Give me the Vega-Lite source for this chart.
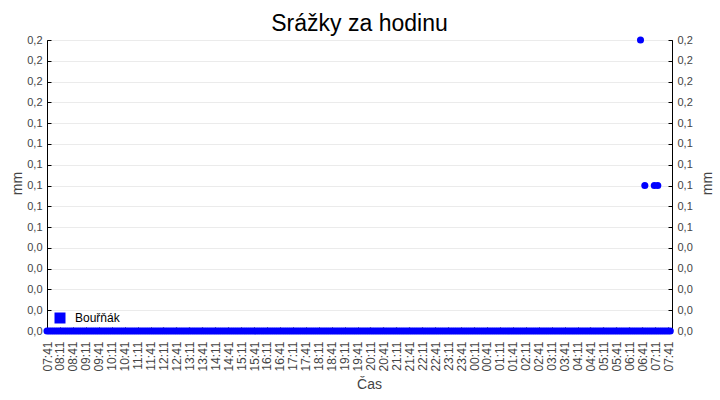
{
  "$schema": "https://vega.github.io/schema/vega-lite/v6.json",
  "width": 625,
  "height": 291,
  "autosize": {"type": "none"},
  "padding": {"left": 47, "top": 40, "right": 48, "bottom": 69},
  "title": {
    "text": "Srážky za hodinu",
    "font": "Liberation Sans",
    "fontSize": 23,
    "fontWeight": "normal",
    "color": "#000000",
    "anchor": "middle",
    "offset": -2
  },
  "data": {
    "values": [
      {"t":"2024-01-01T07:41Z","v":0},{"t":"2024-01-01T07:46Z","v":0},{"t":"2024-01-01T07:51Z","v":0},{"t":"2024-01-01T07:56Z","v":0},
      {"t":"2024-01-01T08:01Z","v":0},{"t":"2024-01-01T08:06Z","v":0},{"t":"2024-01-01T08:11Z","v":0},{"t":"2024-01-01T08:16Z","v":0},{"t":"2024-01-01T08:21Z","v":0},{"t":"2024-01-01T08:26Z","v":0},{"t":"2024-01-01T08:31Z","v":0},{"t":"2024-01-01T08:36Z","v":0},{"t":"2024-01-01T08:41Z","v":0},{"t":"2024-01-01T08:46Z","v":0},{"t":"2024-01-01T08:51Z","v":0},{"t":"2024-01-01T08:56Z","v":0},
      {"t":"2024-01-01T09:01Z","v":0},{"t":"2024-01-01T09:06Z","v":0},{"t":"2024-01-01T09:11Z","v":0},{"t":"2024-01-01T09:16Z","v":0},{"t":"2024-01-01T09:21Z","v":0},{"t":"2024-01-01T09:26Z","v":0},{"t":"2024-01-01T09:31Z","v":0},{"t":"2024-01-01T09:36Z","v":0},{"t":"2024-01-01T09:41Z","v":0},{"t":"2024-01-01T09:46Z","v":0},{"t":"2024-01-01T09:51Z","v":0},{"t":"2024-01-01T09:56Z","v":0},
      {"t":"2024-01-01T10:01Z","v":0},{"t":"2024-01-01T10:06Z","v":0},{"t":"2024-01-01T10:11Z","v":0},{"t":"2024-01-01T10:16Z","v":0},{"t":"2024-01-01T10:21Z","v":0},{"t":"2024-01-01T10:26Z","v":0},{"t":"2024-01-01T10:31Z","v":0},{"t":"2024-01-01T10:36Z","v":0},{"t":"2024-01-01T10:41Z","v":0},{"t":"2024-01-01T10:46Z","v":0},{"t":"2024-01-01T10:51Z","v":0},{"t":"2024-01-01T10:56Z","v":0},
      {"t":"2024-01-01T11:01Z","v":0},{"t":"2024-01-01T11:06Z","v":0},{"t":"2024-01-01T11:11Z","v":0},{"t":"2024-01-01T11:16Z","v":0},{"t":"2024-01-01T11:21Z","v":0},{"t":"2024-01-01T11:26Z","v":0},{"t":"2024-01-01T11:31Z","v":0},{"t":"2024-01-01T11:36Z","v":0},{"t":"2024-01-01T11:41Z","v":0},{"t":"2024-01-01T11:46Z","v":0},{"t":"2024-01-01T11:51Z","v":0},{"t":"2024-01-01T11:56Z","v":0},
      {"t":"2024-01-01T12:01Z","v":0},{"t":"2024-01-01T12:06Z","v":0},{"t":"2024-01-01T12:11Z","v":0},{"t":"2024-01-01T12:16Z","v":0},{"t":"2024-01-01T12:21Z","v":0},{"t":"2024-01-01T12:26Z","v":0},{"t":"2024-01-01T12:31Z","v":0},{"t":"2024-01-01T12:36Z","v":0},{"t":"2024-01-01T12:41Z","v":0},{"t":"2024-01-01T12:46Z","v":0},{"t":"2024-01-01T12:51Z","v":0},{"t":"2024-01-01T12:56Z","v":0},
      {"t":"2024-01-01T13:01Z","v":0},{"t":"2024-01-01T13:06Z","v":0},{"t":"2024-01-01T13:11Z","v":0},{"t":"2024-01-01T13:16Z","v":0},{"t":"2024-01-01T13:21Z","v":0},{"t":"2024-01-01T13:26Z","v":0},{"t":"2024-01-01T13:31Z","v":0},{"t":"2024-01-01T13:36Z","v":0},{"t":"2024-01-01T13:41Z","v":0},{"t":"2024-01-01T13:46Z","v":0},{"t":"2024-01-01T13:51Z","v":0},{"t":"2024-01-01T13:56Z","v":0},
      {"t":"2024-01-01T14:01Z","v":0},{"t":"2024-01-01T14:06Z","v":0},{"t":"2024-01-01T14:11Z","v":0},{"t":"2024-01-01T14:16Z","v":0},{"t":"2024-01-01T14:21Z","v":0},{"t":"2024-01-01T14:26Z","v":0},{"t":"2024-01-01T14:31Z","v":0},{"t":"2024-01-01T14:36Z","v":0},{"t":"2024-01-01T14:41Z","v":0},{"t":"2024-01-01T14:46Z","v":0},{"t":"2024-01-01T14:51Z","v":0},{"t":"2024-01-01T14:56Z","v":0},
      {"t":"2024-01-01T15:01Z","v":0},{"t":"2024-01-01T15:06Z","v":0},{"t":"2024-01-01T15:11Z","v":0},{"t":"2024-01-01T15:16Z","v":0},{"t":"2024-01-01T15:21Z","v":0},{"t":"2024-01-01T15:26Z","v":0},{"t":"2024-01-01T15:31Z","v":0},{"t":"2024-01-01T15:36Z","v":0},{"t":"2024-01-01T15:41Z","v":0},{"t":"2024-01-01T15:46Z","v":0},{"t":"2024-01-01T15:51Z","v":0},{"t":"2024-01-01T15:56Z","v":0},
      {"t":"2024-01-01T16:01Z","v":0},{"t":"2024-01-01T16:06Z","v":0},{"t":"2024-01-01T16:11Z","v":0},{"t":"2024-01-01T16:16Z","v":0},{"t":"2024-01-01T16:21Z","v":0},{"t":"2024-01-01T16:26Z","v":0},{"t":"2024-01-01T16:31Z","v":0},{"t":"2024-01-01T16:36Z","v":0},{"t":"2024-01-01T16:41Z","v":0},{"t":"2024-01-01T16:46Z","v":0},{"t":"2024-01-01T16:51Z","v":0},{"t":"2024-01-01T16:56Z","v":0},
      {"t":"2024-01-01T17:01Z","v":0},{"t":"2024-01-01T17:06Z","v":0},{"t":"2024-01-01T17:11Z","v":0},{"t":"2024-01-01T17:16Z","v":0},{"t":"2024-01-01T17:21Z","v":0},{"t":"2024-01-01T17:26Z","v":0},{"t":"2024-01-01T17:31Z","v":0},{"t":"2024-01-01T17:36Z","v":0},{"t":"2024-01-01T17:41Z","v":0},{"t":"2024-01-01T17:46Z","v":0},{"t":"2024-01-01T17:51Z","v":0},{"t":"2024-01-01T17:56Z","v":0},
      {"t":"2024-01-01T18:01Z","v":0},{"t":"2024-01-01T18:06Z","v":0},{"t":"2024-01-01T18:11Z","v":0},{"t":"2024-01-01T18:16Z","v":0},{"t":"2024-01-01T18:21Z","v":0},{"t":"2024-01-01T18:26Z","v":0},{"t":"2024-01-01T18:31Z","v":0},{"t":"2024-01-01T18:36Z","v":0},{"t":"2024-01-01T18:41Z","v":0},{"t":"2024-01-01T18:46Z","v":0},{"t":"2024-01-01T18:51Z","v":0},{"t":"2024-01-01T18:56Z","v":0},
      {"t":"2024-01-01T19:01Z","v":0},{"t":"2024-01-01T19:06Z","v":0},{"t":"2024-01-01T19:11Z","v":0},{"t":"2024-01-01T19:16Z","v":0},{"t":"2024-01-01T19:21Z","v":0},{"t":"2024-01-01T19:26Z","v":0},{"t":"2024-01-01T19:31Z","v":0},{"t":"2024-01-01T19:36Z","v":0},{"t":"2024-01-01T19:41Z","v":0},{"t":"2024-01-01T19:46Z","v":0},{"t":"2024-01-01T19:51Z","v":0},{"t":"2024-01-01T19:56Z","v":0},
      {"t":"2024-01-01T20:01Z","v":0},{"t":"2024-01-01T20:06Z","v":0},{"t":"2024-01-01T20:11Z","v":0},{"t":"2024-01-01T20:16Z","v":0},{"t":"2024-01-01T20:21Z","v":0},{"t":"2024-01-01T20:26Z","v":0},{"t":"2024-01-01T20:31Z","v":0},{"t":"2024-01-01T20:36Z","v":0},{"t":"2024-01-01T20:41Z","v":0},{"t":"2024-01-01T20:46Z","v":0},{"t":"2024-01-01T20:51Z","v":0},{"t":"2024-01-01T20:56Z","v":0},
      {"t":"2024-01-01T21:01Z","v":0},{"t":"2024-01-01T21:06Z","v":0},{"t":"2024-01-01T21:11Z","v":0},{"t":"2024-01-01T21:16Z","v":0},{"t":"2024-01-01T21:21Z","v":0},{"t":"2024-01-01T21:26Z","v":0},{"t":"2024-01-01T21:31Z","v":0},{"t":"2024-01-01T21:36Z","v":0},{"t":"2024-01-01T21:41Z","v":0},{"t":"2024-01-01T21:46Z","v":0},{"t":"2024-01-01T21:51Z","v":0},{"t":"2024-01-01T21:56Z","v":0},
      {"t":"2024-01-01T22:01Z","v":0},{"t":"2024-01-01T22:06Z","v":0},{"t":"2024-01-01T22:11Z","v":0},{"t":"2024-01-01T22:16Z","v":0},{"t":"2024-01-01T22:21Z","v":0},{"t":"2024-01-01T22:26Z","v":0},{"t":"2024-01-01T22:31Z","v":0},{"t":"2024-01-01T22:36Z","v":0},{"t":"2024-01-01T22:41Z","v":0},{"t":"2024-01-01T22:46Z","v":0},{"t":"2024-01-01T22:51Z","v":0},{"t":"2024-01-01T22:56Z","v":0},
      {"t":"2024-01-01T23:01Z","v":0},{"t":"2024-01-01T23:06Z","v":0},{"t":"2024-01-01T23:11Z","v":0},{"t":"2024-01-01T23:16Z","v":0},{"t":"2024-01-01T23:21Z","v":0},{"t":"2024-01-01T23:26Z","v":0},{"t":"2024-01-01T23:31Z","v":0},{"t":"2024-01-01T23:36Z","v":0},{"t":"2024-01-01T23:41Z","v":0},{"t":"2024-01-01T23:46Z","v":0},{"t":"2024-01-01T23:51Z","v":0},{"t":"2024-01-01T23:56Z","v":0},
      {"t":"2024-01-02T00:01Z","v":0},{"t":"2024-01-02T00:06Z","v":0},{"t":"2024-01-02T00:11Z","v":0},{"t":"2024-01-02T00:16Z","v":0},{"t":"2024-01-02T00:21Z","v":0},{"t":"2024-01-02T00:26Z","v":0},{"t":"2024-01-02T00:31Z","v":0},{"t":"2024-01-02T00:36Z","v":0},{"t":"2024-01-02T00:41Z","v":0},{"t":"2024-01-02T00:46Z","v":0},{"t":"2024-01-02T00:51Z","v":0},{"t":"2024-01-02T00:56Z","v":0},
      {"t":"2024-01-02T01:01Z","v":0},{"t":"2024-01-02T01:06Z","v":0},{"t":"2024-01-02T01:11Z","v":0},{"t":"2024-01-02T01:16Z","v":0},{"t":"2024-01-02T01:21Z","v":0},{"t":"2024-01-02T01:26Z","v":0},{"t":"2024-01-02T01:31Z","v":0},{"t":"2024-01-02T01:36Z","v":0},{"t":"2024-01-02T01:41Z","v":0},{"t":"2024-01-02T01:46Z","v":0},{"t":"2024-01-02T01:51Z","v":0},{"t":"2024-01-02T01:56Z","v":0},
      {"t":"2024-01-02T02:01Z","v":0},{"t":"2024-01-02T02:06Z","v":0},{"t":"2024-01-02T02:11Z","v":0},{"t":"2024-01-02T02:16Z","v":0},{"t":"2024-01-02T02:21Z","v":0},{"t":"2024-01-02T02:26Z","v":0},{"t":"2024-01-02T02:31Z","v":0},{"t":"2024-01-02T02:36Z","v":0},{"t":"2024-01-02T02:41Z","v":0},{"t":"2024-01-02T02:46Z","v":0},{"t":"2024-01-02T02:51Z","v":0},{"t":"2024-01-02T02:56Z","v":0},
      {"t":"2024-01-02T03:01Z","v":0},{"t":"2024-01-02T03:06Z","v":0},{"t":"2024-01-02T03:11Z","v":0},{"t":"2024-01-02T03:16Z","v":0},{"t":"2024-01-02T03:21Z","v":0},{"t":"2024-01-02T03:26Z","v":0},{"t":"2024-01-02T03:31Z","v":0},{"t":"2024-01-02T03:36Z","v":0},{"t":"2024-01-02T03:41Z","v":0},{"t":"2024-01-02T03:46Z","v":0},{"t":"2024-01-02T03:51Z","v":0},{"t":"2024-01-02T03:56Z","v":0},
      {"t":"2024-01-02T04:01Z","v":0},{"t":"2024-01-02T04:06Z","v":0},{"t":"2024-01-02T04:11Z","v":0},{"t":"2024-01-02T04:16Z","v":0},{"t":"2024-01-02T04:21Z","v":0},{"t":"2024-01-02T04:26Z","v":0},{"t":"2024-01-02T04:31Z","v":0},{"t":"2024-01-02T04:36Z","v":0},{"t":"2024-01-02T04:41Z","v":0},{"t":"2024-01-02T04:46Z","v":0},{"t":"2024-01-02T04:51Z","v":0},{"t":"2024-01-02T04:56Z","v":0},
      {"t":"2024-01-02T05:01Z","v":0},{"t":"2024-01-02T05:06Z","v":0},{"t":"2024-01-02T05:11Z","v":0},{"t":"2024-01-02T05:16Z","v":0},{"t":"2024-01-02T05:21Z","v":0},{"t":"2024-01-02T05:26Z","v":0},{"t":"2024-01-02T05:31Z","v":0},{"t":"2024-01-02T05:36Z","v":0},{"t":"2024-01-02T05:41Z","v":0},{"t":"2024-01-02T05:46Z","v":0},{"t":"2024-01-02T05:51Z","v":0},{"t":"2024-01-02T05:56Z","v":0},
      {"t":"2024-01-02T06:01Z","v":0},{"t":"2024-01-02T06:06Z","v":0},{"t":"2024-01-02T06:11Z","v":0},{"t":"2024-01-02T06:16Z","v":0},{"t":"2024-01-02T06:21Z","v":0},{"t":"2024-01-02T06:26Z","v":0},{"t":"2024-01-02T06:31Z","v":0},{"t":"2024-01-02T06:36Z","v":0},{"t":"2024-01-02T06:41Z","v":0},{"t":"2024-01-02T06:46Z","v":0},{"t":"2024-01-02T06:51Z","v":0},{"t":"2024-01-02T06:56Z","v":0},
      {"t":"2024-01-02T07:01Z","v":0},{"t":"2024-01-02T07:06Z","v":0},{"t":"2024-01-02T07:11Z","v":0},{"t":"2024-01-02T07:16Z","v":0},{"t":"2024-01-02T07:21Z","v":0},{"t":"2024-01-02T07:26Z","v":0},{"t":"2024-01-02T07:31Z","v":0},{"t":"2024-01-02T07:36Z","v":0},{"t":"2024-01-02T07:41Z","v":0},{"t":"2024-01-02T07:46Z","v":0},
      {"t":"2024-01-02T06:37Z","v":0.2},{"t":"2024-01-02T06:47Z","v":0.1},{"t":"2024-01-02T07:09Z","v":0.1},{"t":"2024-01-02T07:17Z","v":0.1}
    ]
  },
  "encoding": {
    "x": {
      "field": "t",
      "type": "temporal",
      "scale": {"type": "utc", "domain": [1704094860000, 1704181800000]},
      "axis": {
        "title": "Čas",
        "values": [1704094860000,1704096660000,1704098460000,1704100260000,1704102060000,1704103860000,1704105660000,1704107460000,1704109260000,1704111060000,1704112860000,1704114660000,1704116460000,1704118260000,1704120060000,1704121860000,1704123660000,1704125460000,1704127260000,1704129060000,1704130860000,1704132660000,1704134460000,1704136260000,1704138060000,1704139860000,1704141660000,1704143460000,1704145260000,1704147060000,1704148860000,1704150660000,1704152460000,1704154260000,1704156060000,1704157860000,1704159660000,1704161460000,1704163260000,1704165060000,1704166860000,1704168660000,1704170460000,1704172260000,1704174060000,1704175860000,1704177660000,1704179460000,1704181260000],
        "labelExpr": "utcFormat(datum.value, '%H:%M')",
        "labelAngle": 270,
        "labelAlign": "right",
        "labelBaseline": "middle",
        "labelOverlap": false,
        "labelFlush": false,
        "labelFontSize": 12,
        "labelPadding": 14,
        "tickSize": -4,
        "grid": false,
        "titleX": 322,
        "titleY": 46,
        "titleAlign": "center",
        "titleBaseline": "top"
      }
    }
  },
  "layer": [
    {
      "mark": {"type": "point", "filled": true, "shape": "circle", "size": 50, "opacity": 1},
      "encoding": {
        "y": {
          "field": "v",
          "type": "quantitative",
          "scale": {"domain": [0, 0.2], "nice": false},
          "axis": {
            "orient": "left",
            "title": "mm",
            "values": [0, 0.0142857, 0.0285714, 0.0428571, 0.0571429, 0.0714286, 0.0857143, 0.1, 0.1142857, 0.1285714, 0.1428571, 0.1571429, 0.1714286, 0.1857143, 0.2],
            "labelExpr": "datum.value < 0.065 ? '0,0' : datum.value < 0.15 ? '0,1' : '0,2'",
            "grid": true,
            "gridColor": "#ebebeb",
            "tickSize": -4,
            "labelPadding": 9,
            "titleAngle": 270,
            "titleX": -30,
            "titleY": 143,
            "titleAlign": "center",
            "titleBaseline": "middle"
          }
        },
        "color": {
          "datum": "Bouřňák",
          "type": "nominal",
          "scale": {"range": ["#0000ff"]},
          "legend": {
            "title": null,
            "orient": "none",
            "legendX": 7,
            "legendY": 272,
            "symbolType": "square",
            "symbolSize": 121,
            "symbolStrokeWidth": 0,
            "labelFont": "Liberation Sans",
            "labelFontSize": 12,
            "labelColor": "#000000",
            "labelOffset": 9,
            "padding": 0
          }
        }
      }
    },
    {
      "mark": {"type": "point", "opacity": 0},
      "encoding": {
        "y": {
          "field": "v",
          "type": "quantitative",
          "scale": {"domain": [0, 0.2], "nice": false},
          "axis": {
            "orient": "right",
            "title": "mm",
            "values": [0, 0.0142857, 0.0285714, 0.0428571, 0.0571429, 0.0714286, 0.0857143, 0.1, 0.1142857, 0.1285714, 0.1428571, 0.1571429, 0.1714286, 0.1857143, 0.2],
            "labelExpr": "datum.value < 0.065 ? '0,0' : datum.value < 0.15 ? '0,1' : '0,2'",
            "grid": false,
            "tickSize": -4,
            "labelPadding": 9,
            "titleAngle": 270,
            "titleX": 35,
            "titleY": 143,
            "titleAlign": "center",
            "titleBaseline": "middle"
          }
        }
      }
    }
  ],
  "resolve": {"scale": {"y": "independent"}},
  "config": {
    "view": {"stroke": "#000000", "strokeWidth": 1},
    "axis": {
      "domainColor": "#000000",
      "tickColor": "#000000",
      "labelFont": "Liberation Sans",
      "labelFontSize": 11,
      "labelColor": "#444444",
      "titleFont": "Liberation Sans",
      "titleFontSize": 14,
      "titleFontWeight": "normal",
      "titleColor": "#444444"
    }
  }
}
